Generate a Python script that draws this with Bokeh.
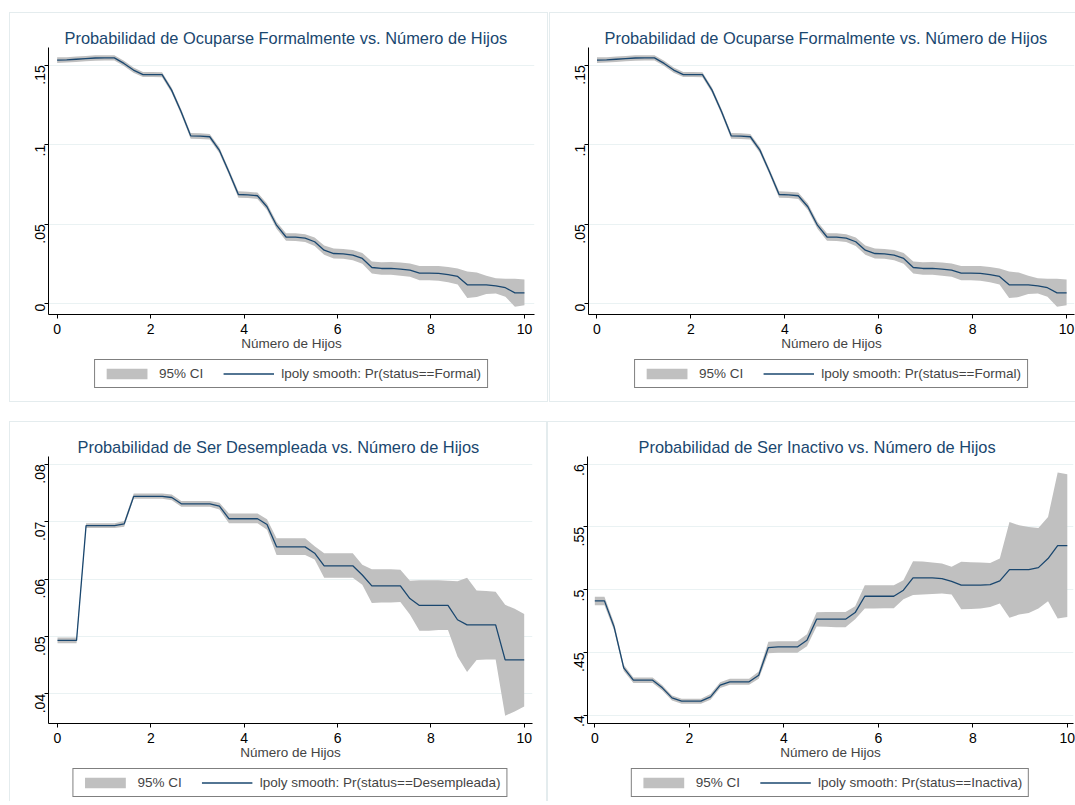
import math
from bokeh.plotting import figure
from bokeh.models import (Range1d, FixedTicker, Legend, LegendItem, Spacer)
from bokeh.layouts import column, row
from bokeh.embed import file_html
from bokeh.resources import INLINE

# ---------------- data ----------------
hijos = [0.000, 0.204, 0.408, 0.612, 0.816, 1.020, 1.224, 1.429, 1.633, 1.837,
         2.041, 2.245, 2.449, 2.653, 2.857, 3.061, 3.265, 3.469, 3.673, 3.878,
         4.082, 4.286, 4.490, 4.694, 4.898, 5.102, 5.306, 5.510, 5.714, 5.918,
         6.122, 6.327, 6.531, 6.735, 6.939, 7.143, 7.347, 7.551, 7.755, 7.959,
         8.163, 8.367, 8.571, 8.776, 8.980, 9.184, 9.388, 9.592, 9.796, 10.000]

formal = [.1532, .1533, .1537, .1541, .1545, .1546, .1546, .1511, .1469, .1441,
          .1441, .1440, .1343, .1207, .1056, .1054, .1050, .0966, .0830, .0687,
          .0685, .0679, .0610, .0494, .0420, .0419, .0413, .0390, .0337, .0316,
          .0314, .0306, .0285, .0228, .0222, .0222, .0218, .0212, .0193, .0193,
          .0191, .0184, .0172, .0119, .0119, .0119, .0113, .0101, .0069, .0069]
formal_lo = [.1514, .1516, .1520, .1524, .1528, .1529, .1529, .1495, .1453, .1425,
             .1425, .1424, .1327, .1190, .1038, .1036, .1032, .0948, .0812, .0667,
             .0665, .0659, .0590, .0472, .0397, .0395, .0389, .0364, .0308, .0285,
             .0283, .0274, .0251, .0190, .0183, .0182, .0177, .0170, .0148, .0148,
             .0145, .0136, .0122, .0036, .0042, .0062, .0065, .0045, -.0018, -.0009]
formal_hi = [.1550, .1550, .1554, .1558, .1562, .1563, .1563, .1527, .1485, .1457,
             .1457, .1456, .1359, .1224, .1074, .1072, .1068, .0984, .0848, .0707,
             .0705, .0699, .0630, .0516, .0443, .0443, .0437, .0416, .0366, .0347,
             .0345, .0338, .0319, .0266, .0261, .0262, .0259, .0254, .0238, .0238,
             .0237, .0232, .0222, .0203, .0196, .0176, .0161, .0157, .0158, .0153]

desemp = [.0493, .0493, .0493, .0693, .0693, .0693, .0693, .0696, .0744, .0744,
          .0744, .0744, .0742, .0731, .0731, .0731, .0731, .0727, .0705, .0705,
          .0705, .0705, .0695, .0656, .0656, .0656, .0656, .0645, .0623, .0623,
          .0623, .0623, .0607, .0588, .0588, .0588, .0588, .0566, .0554, .0554,
          .0554, .0554, .0529, .0520, .0520, .0520, .0520, .0459, .0459, .0459]
desemp_lo = [.0488, .0488, .0488, .0689, .0689, .0689, .0689, .0691, .0740, .0740,
             .0740, .0740, .0737, .0726, .0726, .0726, .0726, .0721, .0697, .0697,
             .0697, .0697, .0686, .0642, .0642, .0642, .0642, .0634, .0602, .0602,
             .0602, .0602, .0590, .0558, .0559, .0559, .0560, .0538, .0510, .0510,
             .0511, .0511, .0465, .0438, .0459, .0460, .0460, .0362, .0369, .0378]
desemp_hi = [.0498, .0498, .0498, .0697, .0697, .0697, .0697, .0701, .0749, .0749,
             .0749, .0749, .0747, .0736, .0736, .0736, .0736, .0733, .0714, .0714,
             .0714, .0714, .0704, .0671, .0671, .0671, .0671, .0657, .0645, .0645,
             .0645, .0645, .0625, .0617, .0617, .0617, .0616, .0597, .0598, .0598,
             .0598, .0597, .0596, .0602, .0580, .0579, .0578, .0555, .0548, .0539]

inact = [.4911, .4911, .4704, .4377, .4279, .4279, .4279, .4218, .4138, .4112,
         .4112, .4112, .4146, .4239, .4266, .4266, .4266, .4319, .4539, .4544,
         .4544, .4544, .4597, .4765, .4765, .4765, .4765, .4818, .4948, .4948,
         .4948, .4948, .4996, .5094, .5094, .5094, .5089, .5067, .5036, .5036,
         .5036, .5041, .5070, .5160, .5160, .5160, .5176, .5248, .5352, .5352]
inact_lo = [.4876, .4876, .4674, .4352, .4257, .4257, .4257, .4197, .4118, .4092,
            .4092, .4092, .4124, .4216, .4242, .4242, .4242, .4290, .4493, .4498,
            .4498, .4498, .4549, .4706, .4705, .4701, .4701, .4765, .4850, .4850,
            .4852, .4852, .4923, .4957, .4961, .4966, .4969, .4961, .4844, .4847,
            .4850, .4863, .4890, .4776, .4802, .4815, .4850, .4908, .4770, .4783]
inact_hi = [.4943, .4943, .4734, .4402, .4301, .4301, .4301, .4239, .4158, .4132,
            .4132, .4132, .4168, .4262, .4290, .4290, .4290, .4348, .4585, .4590,
            .4590, .4590, .4645, .4820, .4822, .4823, .4823, .4868, .5036, .5036,
            .5036, .5036, .5076, .5227, .5224, .5216, .5208, .5182, .5222, .5219,
            .5216, .5213, .5248, .5540, .5513, .5500, .5492, .5580, .5933, .5920]

x_ticks = [0, 2, 4, 6, 8, 10]
formal_ticks = [0.0, 0.05, 0.1, 0.15]
formal_labels = ["0", ".05", ".1", ".15"]
desemp_ticks = [0.04, 0.05, 0.06, 0.07, 0.08]
desemp_labels = [".04", ".05", ".06", ".07", ".08"]
inact_ticks = [0.4, 0.45, 0.5, 0.55, 0.6]
inact_labels = [".4", ".45", ".5", ".55", ".6"]

title_formal = "Probabilidad de Ocuparse Formalmente vs. Número de Hijos"
title_desemp = "Probabilidad de Ser Desempleada vs. Número de Hijos"
title_inact = "Probabilidad de Ser Inactivo vs. Número de Hijos"
x_title = "Número de Hijos"
ci_label = "95% CI"
lab_formal = "lpoly smooth: Pr(status==Formal)"
lab_desemp = "lpoly smooth: Pr(status==Desempleada)"
lab_inact = "lpoly smooth: Pr(status==Inactiva)"

# ---------------- styling ----------------
FONT = "Liberation Sans"
NAVY = "#1a476f"
BAND = "#c0c0c0"
GRID = "#eaf2f3"
PANEL = "#e4ecee"
MAIN_H = 344
LEG_H = 46


def panel(title, mean, lo, hi, label, yticks, ylabels, xr, yr, width,
          mb_left, mb_right, title_offset):
    p = figure(width=width, height=MAIN_H, x_range=Range1d(*xr), y_range=Range1d(*yr),
               output_backend="svg", toolbar_location=None,
               min_border_left=mb_left, min_border_right=mb_right,
               min_border_top=35, min_border_bottom=MAIN_H - 35 - 267, title=title)
    p.outline_line_color = None
    p.border_fill_color = None
    p.background_fill_color = None

    p.varea(x=hijos, y1=lo, y2=hi, fill_color=BAND, fill_alpha=1.0)
    p.line(x=hijos, y=mean, line_color=NAVY, line_width=1.3)

    p.title.text_font = FONT
    p.title.text_font_size = "16.4px"
    p.title.text_font_style = "normal"
    p.title.text_color = NAVY
    p.title.align = "left"
    p.title.offset = title_offset
    p.title.standoff = 1

    xa = p.xaxis[0]
    xa.ticker = FixedTicker(ticks=x_ticks)
    xa.axis_label = x_title
    xa.axis_label_text_font = FONT
    xa.axis_label_text_font_size = "13.5px"
    xa.axis_label_text_font_style = "normal"
    xa.axis_label_standoff = -1
    xa.major_label_text_font = FONT
    xa.major_label_text_font_size = "14px"
    xa.major_label_standoff = 5

    ya = p.yaxis[0]
    ya.ticker = FixedTicker(ticks=yticks)
    ya.major_label_overrides = dict(zip(yticks, ylabels))
    ya.major_label_orientation = math.pi / 2
    ya.major_label_text_font = FONT
    ya.major_label_text_font_size = "14px"
    ya.major_label_standoff = 4

    for ax in (xa, ya):
        ax.axis_line_color = "black"
        ax.major_tick_line_color = "black"
        ax.major_tick_out = 4
        ax.major_tick_in = 0
        ax.minor_tick_line_color = None
        ax.major_label_text_color = "black"

    p.xgrid.grid_line_color = None
    p.ygrid.grid_line_color = GRID
    p.ygrid.ticker = FixedTicker(ticks=yticks)

    # legend drawn in its own strip below the plot; its renderers sit
    # outside the strip's visible range so only the legend keys show
    lg = figure(width=width, height=LEG_H, x_range=Range1d(0, 10), y_range=Range1d(10, 11),
                x_axis_type=None, y_axis_type=None,
                output_backend="svg", toolbar_location=None,
                min_border_left=mb_left, min_border_right=mb_right,
                min_border_top=0, min_border_bottom=0)
    lg.outline_line_color = None
    lg.border_fill_color = None
    lg.background_fill_color = None
    d1 = lg.varea(x=hijos, y1=lo, y2=hi, fill_color=BAND, fill_alpha=1.0)
    d2 = lg.line(x=hijos, y=mean, line_color=NAVY, line_width=1.3)
    legend = Legend(items=[LegendItem(label=ci_label, renderers=[d1]),
                           LegendItem(label=label, renderers=[d2])],
                    orientation="horizontal", location="top_center")
    legend.border_line_color = "black"
    legend.border_line_width = 1
    legend.padding = 6
    legend.spacing = 20
    legend.label_standoff = 7
    legend.glyph_width = 51
    legend.glyph_height = 13
    legend.label_text_font = FONT
    legend.label_text_font_size = "13.5px"
    legend.margin = 3
    legend.background_fill_color = "white"
    lg.add_layout(legend, "center")

    return column(p, lg, styles={"background-color": "white",
                                 "box-shadow": "inset 0 0 0 1px " + PANEL})


c1 = panel(title_formal, formal, formal_lo, formal_hi, lab_formal, formal_ticks, formal_labels,
           (-0.185, 10.215), (-0.00673, 0.1611), 539, 39, 14, 16)
c2 = panel(title_formal, formal, formal_lo, formal_hi, lab_formal, formal_ticks, formal_labels,
           (-0.181, 10.168), (-0.00673, 0.1611), 539, 39, 14, 16)
c3 = panel(title_desemp, desemp, desemp_lo, desemp_hi, lab_desemp, desemp_ticks, desemp_labels,
           (-0.193, 10.178), (0.03483, 0.08134), 538, 39, 15, 29)
c4 = panel(title_inact, inact, inact_lo, inact_hi, lab_inact, inact_ticks, inact_labels,
           (-0.155, 10.131), (0.39339, 0.60614), 539, 40, 13, 51)

top = row(Spacer(width=9, height=390), c1, Spacer(width=1, height=390), c2)
bottom = row(Spacer(width=9, height=390), c3, c4)
root = column(Spacer(width=1075, height=12), top, Spacer(width=1075, height=19), bottom,
              width=1075, height=801, styles={"overflow": "hidden"})

open("out.html", "w").write(file_html(root, INLINE))
